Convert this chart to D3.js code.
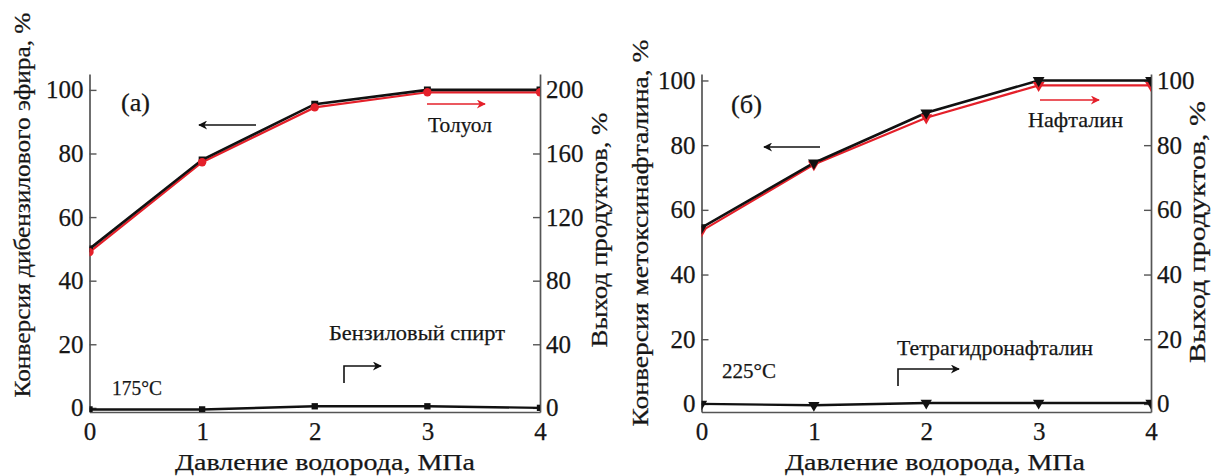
<!DOCTYPE html>
<html>
<head>
<meta charset="utf-8">
<script src="https://cdn.jsdelivr.net/npm/d3@7"></script>
<style>
	body { margin: 0; background: #fff; }
</style>
</head>
<body>
<div id="chart"></div>
<script>
// pressure, MPa
const pressure = [0, 1, 2, 3, 4];
const xTicks = [0, 1, 2, 3, 4];

// (а) 175°C, dibenzyl ether
const dbeConversion = [50, 78, 95.5, 100, 100];          // left axis, %
const tolueneYield = [98, 154.5, 189, 198.5, 198.5];     // right axis, %
const benzylAlcoholYield = [-1, -1, 1, 1, 0];            // right axis, %
const leftTicksA = [0, 20, 40, 60, 80, 100];
const rightTicksA = [0, 40, 80, 120, 160, 200];

// (б) 225°C, methoxynaphthalene
const mnConversion = [54.5, 74.5, 90, 100, 100];
const naphthaleneYield = [53.5, 74, 88.5, 98.5, 98.5];
const tetralinYield = [0, -0.4, 0.3, 0.3, 0.3];
const leftTicksB = [0, 20, 40, 60, 80, 100];
const rightTicksB = [0, 20, 40, 60, 80, 100];

const WIDTH = 1212;
const HEIGHT = 476;
const TOP = 74;
const BOTTOM = 412;
const RED = "#e4202a";
const BLACK = "#111";
const AXIS = "#555";
const TEXT = "#161616";
const FONT = '"Liberation Serif", "Times New Roman", serif';

const svg = d3.select("#chart").append("svg")
	.attr("width", WIDTH)
	.attr("height", HEIGHT)
	.style("font-family", FONT);

const defs = svg.append("defs");
function arrowMarker(id, color) {
	defs.append("marker")
		.attr("id", id)
		.attr("viewBox", "0 0 10 10")
		.attr("refX", 9).attr("refY", 5)
		.attr("markerWidth", 16).attr("markerHeight", 9)
		.attr("markerUnits", "userSpaceOnUse")
		.attr("orient", "auto")
		.append("path")
			.attr("d", "M0,0 L10,5 L0,10 L3,5 Z")
			.attr("fill", color);
}
arrowMarker("arrBlack", BLACK);
arrowMarker("arrRed", RED);

// text helper, stretched to the width measured in the picture
function label(g, o) {
	const t = g.append("text")
		.attr("transform", `translate(${o.x},${o.y})` + (o.rot ? " rotate(-90)" : ""))
		.attr("text-anchor", o.anchor || "start")
		.attr("dy", o.dy || 0)
		.attr("font-size", o.size)
		.style("font-family", FONT)
		.attr("fill", TEXT)
		.attr("stroke", TEXT).attr("stroke-width", 0.25)
		.text(o.text);
	if (o.len) t.attr("textLength", o.len).attr("lengthAdjust", "spacingAndGlyphs");
	return t;
}

function drawPanel(p) {
	const x = d3.scaleLinear().domain([0, 4]).range([p.left, p.right]);
	const yL = d3.scaleLinear().domain(p.yDomain).range([BOTTOM, TOP]);
	const yR = d3.scaleLinear().domain(p.yDomain.map(v => v * p.rightFactor)).range([BOTTOM, TOP]);

	const g = svg.append("g");

	defs.append("clipPath").attr("id", p.id + "clip")
		.append("rect")
			.attr("x", p.left).attr("y", TOP)
			.attr("width", p.right - p.left).attr("height", BOTTOM - TOP);

	// axes
	const axL = g.append("g").attr("transform", `translate(${p.left},0)`)
		.call(d3.axisLeft(yL).tickValues(p.leftTicks).tickSize(-7).tickSizeOuter(0).tickPadding(6));
	const axR = g.append("g").attr("transform", `translate(${p.right},0)`)
		.call(d3.axisRight(yR).tickValues(p.rightTicks).tickSize(-7).tickSizeOuter(0).tickPadding(6));
	const axB = g.append("g").attr("transform", `translate(0,${BOTTOM})`)
		.call(d3.axisBottom(x).tickValues(xTicks).tickFormat(d3.format("d")).tickSize(0).tickPadding(10));

	[axL, axR, axB].forEach(a => {
		a.attr("font-family", null);
		a.select(".domain").attr("stroke", AXIS).attr("stroke-width", 1.7);
		a.selectAll(".tick line").attr("stroke", AXIS).attr("stroke-width", 1.4);
		a.selectAll("text").attr("font-size", 25).attr("fill", TEXT)
			.attr("stroke", TEXT).attr("stroke-width", 0.25)
			.style("font-family", FONT);
	});

	const plot = g.append("g").attr("clip-path", `url(#${p.id}clip)`);

	const lineL = d3.line().x((d, i) => x(pressure[i])).y(d => yL(d));
	const lineR = d3.line().x((d, i) => x(pressure[i])).y(d => yR(d));

	// product on right axis (red)
	plot.append("path").datum(p.product)
		.attr("d", lineR).attr("fill", "none")
		.attr("stroke", RED).attr("stroke-width", 2.2);
	// conversion (black)
	plot.append("path").datum(p.conversion)
		.attr("d", lineL).attr("fill", "none")
		.attr("stroke", BLACK).attr("stroke-width", 2.6);
	// minor product (black)
	plot.append("path").datum(p.minor)
		.attr("d", lineR).attr("fill", "none")
		.attr("stroke", BLACK).attr("stroke-width", 2.4);

	function markers(data, yScale, color, type, size) {
		plot.selectAll(null).data(data).enter().append("path")
			.attr("transform", (d, i) => `translate(${x(pressure[i])},${yScale(d)})` + (type === "tri" ? " rotate(180)" : ""))
			.attr("d", d3.symbol().type(type === "tri" ? d3.symbolTriangle : type === "circle" ? d3.symbolCircle : d3.symbolSquare).size(size))
			.attr("fill", color);
	}
	if (p.symbol === "square") {
		markers(p.conversion, yL, BLACK, "square", 48);
		markers(p.minor, yR, BLACK, "square", 40);
		markers(p.product, yR, RED, "circle", 55);
	} else {
		markers(p.product, yR, RED, "tri", 60);
		markers(p.conversion, yL, BLACK, "tri", 60);
		markers(p.minor, yR, BLACK, "tri", 55);
	}

	// axis titles
	label(g, { x: p.leftTitle.x, y: p.leftTitle.y, rot: true, anchor: "middle", dy: "0.32em", size: 24, len: p.leftTitle.len, text: p.leftTitle.text });
	label(g, { x: p.rightTitle.x, y: p.rightTitle.y, rot: true, anchor: "middle", dy: "0.3em", size: 24, len: p.rightTitle.len, text: "Выход продуктов, %" });
	label(g, { x: p.xTitleX, y: 470, anchor: "middle", size: 24, len: 300, text: "Давление водорода, МПа" });

	// annotations
	p.notes.forEach(n => label(g, n));

	const arrow = (pts, id, color) => g.append("path")
		.attr("d", d3.line()(pts))
		.attr("fill", "none").attr("stroke", color).attr("stroke-width", 1.6)
		.attr("marker-end", `url(#${id})`);
	arrow(p.leftArrow, "arrBlack", BLACK);
	arrow(p.redArrow, "arrRed", RED);
	arrow(p.bentArrow, "arrBlack", BLACK);
}

drawPanel({
	id: "a", left: 89.5, right: 540,
	yDomain: [-1.3, 105], rightFactor: 2,
	leftTicks: leftTicksA, rightTicks: rightTicksA,
	conversion: dbeConversion, product: tolueneYield, minor: benzylAlcoholYield,
	symbol: "square",
	leftTitle: { text: "Конверсия дибензилового эфира, %", x: 22, y: 205, len: 385 },
	rightTitle: { x: 600, y: 230, len: 235 },
	xTitleX: 325,
	notes: [
		{ text: "(а)", x: 121, y: 111, size: 26, len: 29 },
		{ text: "175°C", x: 112, y: 395, size: 21, len: 50 },
		{ text: "Толуол", x: 428, y: 132, size: 22, len: 64 },
		{ text: "Бензиловый спирт", x: 329, y: 340, size: 22, len: 176 }
	],
	leftArrow: [[256, 125], [199, 125]],
	redArrow: [[427, 104], [485, 104]],
	bentArrow: [[344, 383], [344, 366], [381, 366]]
});

drawPanel({
	id: "b", left: 701.5, right: 1151,
	yDomain: [-2.5, 102], rightFactor: 1,
	leftTicks: leftTicksB, rightTicks: rightTicksB,
	conversion: mnConversion, product: naphthaleneYield, minor: tetralinYield,
	symbol: "tri",
	leftTitle: { text: "Конверсия метоксинафталина, %", x: 640, y: 233, len: 387 },
	rightTitle: { x: 1198, y: 232, len: 262 },
	xTitleX: 935,
	notes: [
		{ text: "(б)", x: 731, y: 113, size: 26, len: 31 },
		{ text: "225°C", x: 722, y: 378, size: 21, len: 54 },
		{ text: "Нафталин", x: 1028, y: 127, size: 22, len: 95 },
		{ text: "Тетрагидронафталин", x: 897, y: 355, size: 22, len: 196 }
	],
	leftArrow: [[820, 147], [764, 147]],
	redArrow: [[1040, 100], [1099, 100]],
	bentArrow: [[898, 386], [898, 369], [959, 369]]
});
</script>
</body>
</html>
